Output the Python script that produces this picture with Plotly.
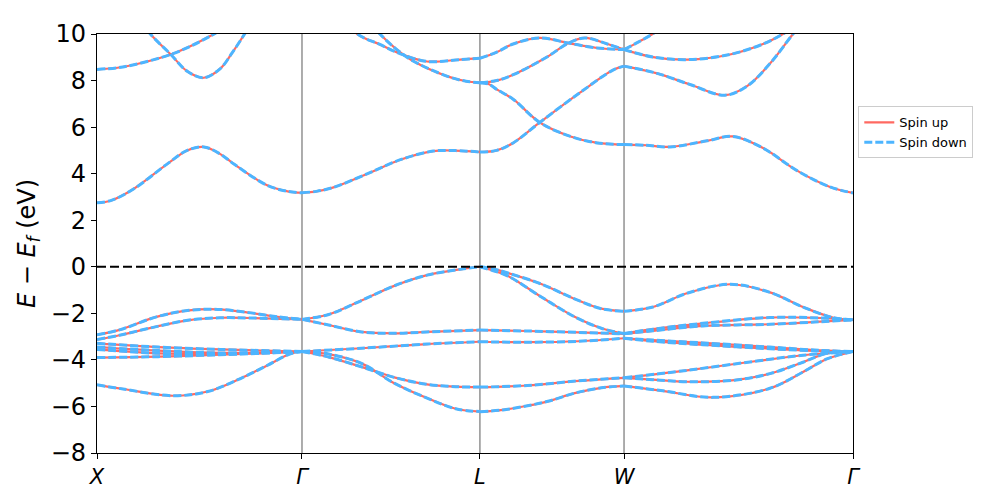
import plotly.graph_objects as go

# high-symmetry points (k-path distance) and labels
tick_k = [0.0, 1.0, 1.868, 2.571, 3.688]
tick_labels = ["X", "Γ", "L", "W", "Γ"]
y_ticks = [-8, -6, -4, -2, 0, 2, 4, 6, 8, 10]

# ---- X - Γ ----
xg_c1 = ([0, 0.07, 0.18, 0.34, 0.44, 0.52, 0.60, 0.67, 0.83, 0.93, 1.0],
         [2.75, 2.85, 3.35, 4.4, 5.0, 5.15, 4.85, 4.4, 3.5, 3.24, 3.18])
xg_c2 = ([0, 0.1, 0.18, 0.36, 0.45, 0.55, 0.65],
         [8.48, 8.55, 8.68, 9.12, 9.45, 9.9, 10.4])
xg_c3 = ([0.18, 0.26, 0.36, 0.44, 0.52, 0.60, 0.66, 0.72, 0.78],
         [10.9, 10.0, 9.12, 8.4, 8.12, 8.5, 9.2, 10.0, 10.9])
xg_v1 = ([0, 0.11, 0.29, 0.45, 0.59, 0.75, 0.88, 1.0],
         [-2.92, -2.71, -2.15, -1.87, -1.83, -1.98, -2.15, -2.26])
xg_v2 = ([0, 0.11, 0.29, 0.45, 0.6, 0.75, 1.0],
         [-3.13, -2.94, -2.57, -2.29, -2.19, -2.2, -2.26])
xg_v3 = ([0, 0.3, 0.6, 1.0], [-3.29, -3.45, -3.55, -3.64])
xg_v4 = ([0, 0.3, 0.6, 1.0], [-3.45, -3.6, -3.7, -3.64])
xg_v5 = ([0, 0.3, 0.6, 1.0], [-3.55, -3.72, -3.75, -3.64])
xg_v6 = ([0, 0.3, 0.6, 0.85, 1.0], [-3.9, -3.86, -3.78, -3.7, -3.64])
xg_v7 = ([0, 0.127, 0.37, 0.54, 0.70, 0.83, 0.94, 1.0],
         [-5.07, -5.25, -5.54, -5.36, -4.8, -4.24, -3.75, -3.64])

# ---- Γ - L ----
gl_c1 = ([1.0, 1.07, 1.15, 1.32, 1.48, 1.64, 1.75, 1.868],
         [3.18, 3.24, 3.4, 4.0, 4.6, 4.97, 4.99, 4.93])
gl_ca = ([1.2, 1.27, 1.38, 1.48, 1.61, 1.77, 1.868],
         [10.7, 10.0, 9.55, 9.15, 8.82, 8.9, 8.96])
gl_cb = ([1.3, 1.38, 1.46, 1.54, 1.71, 1.80, 1.868],
         [10.8, 10.0, 9.35, 8.85, 8.18, 7.97, 7.91])
gl_vt = ([1.0, 1.13, 1.29, 1.45, 1.61, 1.78, 1.868],
         [-2.26, -2.05, -1.45, -0.82, -0.36, -0.1, 0.0])
gl_v2 = ([1.0, 1.13, 1.29, 1.45, 1.61, 1.868],
         [-2.26, -2.5, -2.8, -2.86, -2.8, -2.72])
gl_v3 = ([1.0, 1.29, 1.61, 1.868], [-3.64, -3.5, -3.32, -3.22])
gl_v4 = ([1.0, 1.13, 1.29, 1.45, 1.61, 1.75, 1.868],
         [-3.64, -3.88, -4.3, -4.75, -5.05, -5.15, -5.17])
gl_v5 = ([1.0, 1.13, 1.29, 1.45, 1.61, 1.75, 1.868],
         [-3.64, -3.75, -4.15, -5.0, -5.64, -6.1, -6.22])

# ---- L - W ----
lw_vta = ([1.868, 1.927, 2.005, 2.17, 2.33, 2.46, 2.571],
          [0.0, -0.08, -0.27, -0.75, -1.38, -1.8, -1.91])
lw_vtb = ([1.868, 1.927, 2.005, 2.17, 2.33, 2.46, 2.571],
          [0.0, -0.15, -0.4, -1.31, -2.15, -2.64, -2.87])
lw_v2 = ([1.868, 2.1, 2.35, 2.571], [-2.72, -2.76, -2.82, -2.88])
lw_v3 = ([1.868, 2.1, 2.35, 2.571], [-3.22, -3.24, -3.2, -3.07])
lw_v4 = ([1.868, 2.1, 2.35, 2.571], [-5.17, -5.1, -4.9, -4.77])
lw_v5 = ([1.868, 1.98, 2.1, 2.2, 2.33, 2.46, 2.571],
         [-6.23, -6.15, -5.97, -5.78, -5.43, -5.2, -5.12])
lw_c1 = ([1.868, 1.95, 2.03, 2.16, 2.356, 2.517, 2.571],
         [4.93, 5.0, 5.32, 6.2, 7.48, 8.45, 8.62])
lw_cd = ([1.868, 1.91, 1.95, 2.03, 2.16, 2.31, 2.44, 2.571],
         [7.91, 7.85, 7.62, 7.2, 6.2, 5.6, 5.32, 5.25])
lw_cu1 = ([1.868, 1.95, 2.03, 2.195, 2.3, 2.38, 2.49, 2.571],
          [7.91, 8.0, 8.25, 9.01, 9.61, 9.83, 9.57, 9.33])
lw_cu2 = ([1.868, 1.95, 2.03, 2.16, 2.3, 2.44, 2.571],
          [8.96, 9.22, 9.57, 9.83, 9.61, 9.4, 9.33])

# ---- W - Γ ----
wg_vta = ([2.571, 2.712, 2.878, 3.088, 3.283, 3.444, 3.59, 3.688],
          [-1.91, -1.73, -1.14, -0.75, -1.1, -1.73, -2.18, -2.28])
wg_vtb = ([2.571, 2.712, 2.956, 3.283, 3.527, 3.688],
          [-2.87, -2.68, -2.43, -2.18, -2.2, -2.28])
wg_v2 = ([2.571, 2.712, 2.956, 3.283, 3.527, 3.688],
         [-2.88, -2.75, -2.54, -2.47, -2.36, -2.28])
wg_v3 = ([2.571, 2.712, 2.956, 3.283, 3.527, 3.688],
         [-3.07, -3.15, -3.27, -3.45, -3.59, -3.64])
wg_v3b = ([2.571, 2.712, 2.956, 3.283, 3.527, 3.688],
          [-3.07, -3.2, -3.35, -3.52, -3.62, -3.64])
wg_v4 = ([2.571, 2.878, 3.2, 3.444, 3.688], [-4.77, -4.45, -4.07, -3.8, -3.64])
wg_v4b = ([2.571, 2.71, 2.878, 3.11, 3.283, 3.444, 3.56, 3.688],
          [-4.77, -4.85, -4.94, -4.87, -4.59, -4.1, -3.72, -3.64])
wg_v5 = ([2.571, 2.76, 3.005, 3.283, 3.444, 3.56, 3.688],
         [-5.12, -5.33, -5.61, -5.22, -4.52, -3.96, -3.64])
wg_cw1 = ([2.571, 2.64, 2.71, 2.8], [9.33, 9.65, 10.0, 10.6])
wg_cw2 = ([2.571, 2.712, 2.883, 3.088, 3.249, 3.346, 3.45],
          [9.33, 9.01, 8.9, 9.12, 9.57, 10.0, 10.6])
wg_c1 = ([2.571, 2.732, 2.893, 3.063, 3.171, 3.283, 3.395, 3.47],
         [8.62, 8.31, 7.83, 7.37, 7.76, 8.73, 10.0, 10.8])
wg_cd = ([2.571, 2.68, 2.795, 2.976, 3.102, 3.249, 3.415, 3.576, 3.688],
         [5.25, 5.22, 5.15, 5.41, 5.6, 5.1, 4.13, 3.43, 3.17])

bands = [xg_c1, xg_c2, xg_c3, xg_v1, xg_v2, xg_v3, xg_v4, xg_v5, xg_v6, xg_v7,
         gl_c1, gl_ca, gl_cb, gl_vt, gl_v2, gl_v3, gl_v4, gl_v5,
         lw_vta, lw_vtb, lw_v2, lw_v3, lw_v4, lw_v5, lw_c1, lw_cd, lw_cu1, lw_cu2,
         wg_vta, wg_vtb, wg_v2, wg_v3, wg_v3b, wg_v4, wg_v4b, wg_v5,
         wg_cw1, wg_cw2, wg_c1, wg_cd]

xs, ys = [], []
for k, e in bands:
    xs += list(k) + [None]
    ys += list(e) + [None]

RED = "#ff6961"
BLUE = "#4db5ff"

fig = go.Figure()
fig.add_trace(go.Scatter(x=xs, y=ys, mode="lines", name="Spin up",
                         line=dict(color=RED, width=2.2, shape="spline", smoothing=1.0)))
fig.add_trace(go.Scatter(x=xs, y=ys, mode="lines", name="Spin down",
                         line=dict(color=BLUE, width=3, dash="8px,3px",
                                   shape="spline", smoothing=1.0)))

shapes = []
for k in tick_k[1:-1]:
    shapes.append(dict(type="line", xref="x", yref="paper", x0=k, x1=k, y0=0, y1=1,
                       line=dict(color="#808080", width=1.3), layer="below"))
shapes.append(dict(type="line", xref="paper", yref="y", x0=0, x1=1, y0=0, y1=0,
                   line=dict(color="black", width=2, dash="9px,4px"), layer="above"))

FONT = "DejaVu Sans"
fig.update_layout(
    width=997, height=498,
    margin=dict(l=89, r=152, t=15, b=53),
    paper_bgcolor="white", plot_bgcolor="white",
    font=dict(family=FONT, color="black"),
    shapes=shapes,
    showlegend=True,
    legend=dict(x=1.007, xanchor="left", y=0.765, yanchor="middle",
                bordercolor="#cccccc", borderwidth=1, bgcolor="white",
                font=dict(size=13, family=FONT), tracegroupgap=0),
    xaxis=dict(range=[tick_k[0], tick_k[-1]], tickvals=tick_k,
               ticktext=[f"<i>{t}</i>" for t in tick_labels],
               showgrid=False, zeroline=False, showline=True, mirror=True,
               linecolor="black", linewidth=1.2, ticks="outside", ticklen=5,
               tickcolor="black", tickfont=dict(size=21, family=FONT)),
    yaxis=dict(range=[-8, 10], tickvals=y_ticks, showgrid=False, zeroline=False,
               showline=True, mirror=True, linecolor="black", linewidth=1.2,
               ticks="outside", ticklen=5, tickcolor="black",
               tickfont=dict(size=24, family=FONT),
               title=dict(text="<i>E</i> − <i>E<sub>f</sub></i> (eV)",
                          font=dict(size=24, family=FONT), standoff=8)),
)

fig.write_html("out.html")
